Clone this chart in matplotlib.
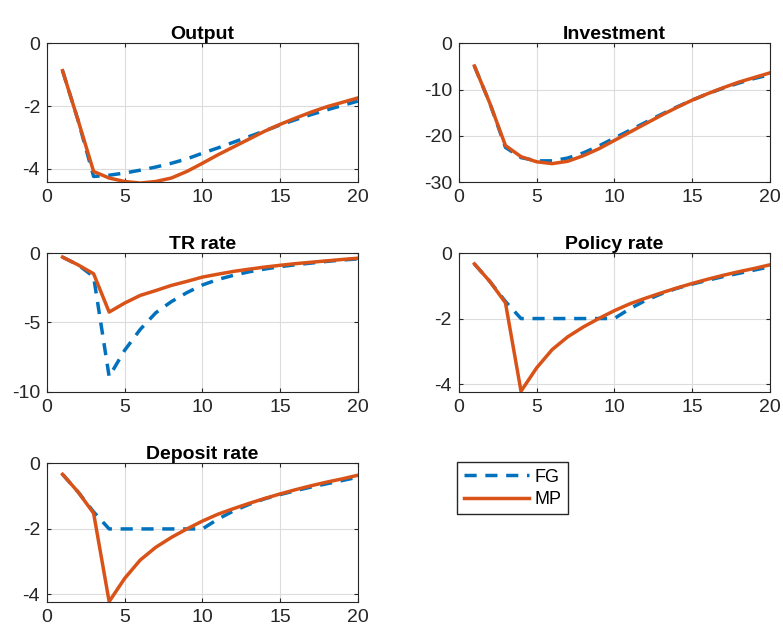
import numpy as np
import matplotlib
matplotlib.use("Agg")
import matplotlib.pyplot as plt

plt.rcParams['font.family'] = ['Liberation Sans', 'DejaVu Sans']
plt.rcParams['axes.unicode_minus'] = False

periods = list(range(1, 21))

output_fg = [-0.87, -2.45, -4.24, -4.2, -4.13, -4.04, -3.94, -3.82, -3.68, -3.5,
             -3.33, -3.15, -2.97, -2.79, -2.6, -2.43, -2.27, -2.12, -1.98, -1.84]
output_mp = [-0.87, -2.45, -4.08, -4.29, -4.4, -4.45, -4.4, -4.29, -4.08, -3.82,
             -3.55, -3.3, -3.05, -2.8, -2.58, -2.38, -2.19, -2.02, -1.88, -1.74]

invest_fg = [-4.9, -13.0, -22.5, -24.7, -25.4, -25.4, -24.8, -23.7, -22.2, -20.5,
             -18.8, -17.1, -15.4, -13.8, -12.3, -10.9, -9.7, -8.6, -7.6, -6.8]
invest_mp = [-4.9, -13.0, -22.1, -24.5, -25.6, -26.0, -25.5, -24.3, -22.8, -21.0,
             -19.2, -17.4, -15.6, -13.9, -12.3, -10.9, -9.6, -8.4, -7.4, -6.4]

tr_fg = [-0.29, -0.85, -1.7, -8.9, -7.0, -5.5, -4.3, -3.5, -2.85, -2.3,
         -1.9, -1.6, -1.35, -1.15, -0.98, -0.84, -0.72, -0.6, -0.5, -0.42]
tr_mp = [-0.29, -0.85, -1.49, -4.25, -3.6, -3.05, -2.7, -2.33, -2.04, -1.73,
         -1.52, -1.32, -1.16, -1.01, -0.88, -0.76, -0.66, -0.56, -0.46, -0.37]

policy_fg = [-0.33, -0.87, -1.48, -2.0, -2.0, -2.0, -2.0, -2.0, -2.0, -2.0,
             -1.7, -1.45, -1.25, -1.08, -0.95, -0.83, -0.72, -0.62, -0.52, -0.42]
policy_mp = [-0.33, -0.87, -1.52, -4.22, -3.51, -2.95, -2.56, -2.26, -2.0, -1.76,
             -1.55, -1.38, -1.22, -1.07, -0.93, -0.8, -0.68, -0.57, -0.47, -0.36]

deposit_fg = [-0.33, -0.87, -1.48, -2.0, -2.0, -2.0, -2.0, -2.0, -2.0, -2.0,
              -1.7, -1.45, -1.25, -1.08, -0.95, -0.83, -0.72, -0.62, -0.52, -0.42]
deposit_mp = [-0.33, -0.87, -1.52, -4.22, -3.51, -2.95, -2.56, -2.26, -2.0, -1.76,
              -1.55, -1.38, -1.22, -1.07, -0.93, -0.8, -0.68, -0.57, -0.47, -0.36]

titles = ["Output", "Investment", "TR rate", "Policy rate", "Deposit rate"]
fg_series = [output_fg, invest_fg, tr_fg, policy_fg, deposit_fg]
mp_series = [output_mp, invest_mp, tr_mp, policy_mp, deposit_mp]
ylims = [(-4.42, 0), (-30, 0), (-10, 0), (-4.24, 0), (-4.24, 0)]
yticks = [[-4, -2, 0], [-30, -20, -10, 0], [-10, -5, 0], [-4, -2, 0], [-4, -2, 0]]

blue = "#0072BD"
orange = "#D95319"
dark = "#262626"

fig = plt.figure(figsize=(7.83, 6.28), dpi=100)

# axes boxes: left, bottom, width, height (figure fractions)
lefts = [0.060, 0.586]
bottoms = [0.710, 0.376, 0.041]
w, h = 0.397, 0.221

for i in range(5):
    r, c = divmod(i, 2)
    ax = fig.add_axes([lefts[c], bottoms[r], w, h])
    l1, = ax.plot(periods, fg_series[i], '--', color=blue, lw=2.5, dashes=(3.5, 2.5), label="FG")
    l2, = ax.plot(periods, mp_series[i], '-', color=orange, lw=2.5, label="MP")
    ax.set_xlim(0, 20)
    ax.set_ylim(*ylims[i])
    ax.set_xticks([0, 5, 10, 15, 20])
    ax.set_yticks(yticks[i])
    ax.grid(True, color="#dcdcdc", lw=0.8)
    ax.set_axisbelow(True)
    ax.tick_params(direction='in', length=3, labelsize=14, colors=dark, pad=5,
                   top=True, right=True)
    for s in ax.spines.values():
        s.set_color(dark)
        s.set_linewidth(0.8)
    ax.set_title(titles[i], fontsize=14, fontweight='bold', pad=3)

fig.legend([l1, l2], ["FG", "MP"], loc='upper left', bbox_to_anchor=(0.584, 0.264),
           fontsize=13, handlelength=3.65, frameon=True, fancybox=False,
           edgecolor=dark, framealpha=1, borderpad=0.35, labelspacing=0.3,
           handletextpad=0.3, borderaxespad=0)

fig.savefig("out.png", dpi=100)
